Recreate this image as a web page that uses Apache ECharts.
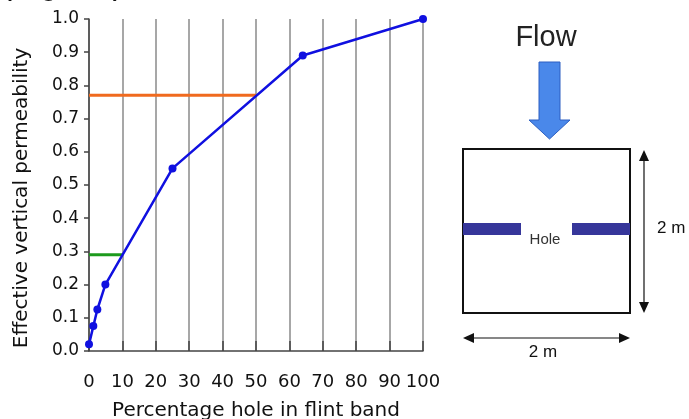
<!DOCTYPE html>
<html>
<head>
<meta charset="utf-8">
<script src="https://cdn.jsdelivr.net/npm/echarts@6/dist/echarts.min.js"></script>
<style>html,body{margin:0;padding:0;background:#fff;}#c{width:689px;height:419px;}</style>
</head>
<body>
<div id="c"></div>
<script>
// Data
var holePct = [0, 1.3, 2.5, 4.9, 25, 64, 100];
var permeability = [0.02, 0.075, 0.125, 0.20, 0.55, 0.89, 1.0];
var greenX = [0, 10];
var greenY = [0.29, 0.29];
var orangeX = [0, 50];
var orangeY = [0.77, 0.77];
var xTicks = [0, 10, 20, 30, 40, 50, 60, 70, 80, 90, 100];
var yTicks = [0.0, 0.1, 0.2, 0.3, 0.4, 0.5, 0.6, 0.7, 0.8, 0.9, 1.0];

function pairs(xs, ys) { return xs.map(function (x, i) { return [x, ys[i]]; }); }

var font = 'Liberation Sans, Arial, sans-serif';
var wide = 'DejaVu Sans, sans-serif';
var chart = echarts.init(document.getElementById('c'), null, {renderer: 'canvas'});
chart.setOption({
  animation: false,
  backgroundColor: '#fff',
  grid: {left: 89, right: 266, top: 19, bottom: 68, containLabel: false, outerBoundsMode: 'none'},
  xAxis: {
    type: 'value', min: xTicks[0], max: xTicks[xTicks.length - 1], interval: 10,
    name: 'Percentage hole in flint band', nameLocation: 'middle', nameGap: 50,
    nameTextStyle: {fontFamily: wide, fontSize: 20, color: '#111'},
    axisLine: {show: true, lineStyle: {color: '#444', width: 1.5}},
    axisTick: {show: true, inside: true, length: 10, lineStyle: {color: '#444', width: 1.5}},
    axisLabel: {fontFamily: wide, fontSize: 18, color: '#111', margin: 22},
    splitLine: {show: true, lineStyle: {color: '#8a8a8a', width: 1.5}}
  },
  yAxis: {
    type: 'value', min: yTicks[0], max: yTicks[yTicks.length - 1], interval: 0.1,
    name: 'Effective vertical permeability', nameLocation: 'middle', nameGap: 57,
    nameTextStyle: {fontFamily: wide, fontSize: 20, color: '#111', padding: [0, 0, 0, -26]},
    axisLine: {show: true, lineStyle: {color: '#444', width: 1.5}},
    axisTick: {show: true, inside: false, length: 5, lineStyle: {color: '#444', width: 1.5}},
    axisLabel: {fontFamily: wide, fontSize: 17, color: '#111', margin: 10,
      formatter: function (v) { return v.toFixed(1); }},
    splitLine: {show: false}
  },
  series: [
    {type: 'line', data: pairs(orangeX, orangeY), symbol: 'none', silent: true,
      lineStyle: {color: '#f06a1e', width: 3}, z: 3},
    {type: 'line', data: pairs(greenX, greenY), symbol: 'none', silent: true,
      lineStyle: {color: '#1c9a1c', width: 3}, z: 3},
    {type: 'line', data: pairs(holePct, permeability), symbol: 'circle', symbolSize: 8,
      itemStyle: {color: '#1010e0'}, lineStyle: {color: '#1010e0', width: 2.5}, z: 5}
  ],
  graphic: [
    {type: 'text', style: {text: '(Fig. 10)', x: 1, y: 1, font: '33px ' + font, fill: '#111', textVerticalAlign: 'bottom'}},
    {type: 'text', style: {text: 'Flow', x: 546, y: 38, font: '29px ' + font, fill: '#222', textAlign: 'center', textVerticalAlign: 'middle'}},
    {type: 'polygon', shape: {points: [[539, 62], [560, 62], [560, 120], [570, 120], [549.5, 139], [529, 120], [539, 120]]},
      style: {fill: '#4a88ea', stroke: '#2c5fc2', lineWidth: 1}},
    {type: 'rect', shape: {x: 463, y: 149, width: 167, height: 164}, style: {fill: 'none', stroke: '#111', lineWidth: 2}},
    {type: 'rect', shape: {x: 463, y: 223, width: 58, height: 12}, style: {fill: '#36369a'}},
    {type: 'rect', shape: {x: 572, y: 223, width: 58, height: 12}, style: {fill: '#36369a'}},
    {type: 'text', style: {text: 'Hole', x: 545, y: 240, font: '15px ' + font, fill: '#333', textAlign: 'center', textVerticalAlign: 'middle'}},
    {type: 'line', shape: {x1: 644, y1: 160, x2: 644, y2: 303}, style: {stroke: '#111', lineWidth: 1.2}},
    {type: 'polygon', shape: {points: [[644, 150], [639, 161], [649, 161]]}, style: {fill: '#111'}},
    {type: 'polygon', shape: {points: [[644, 313], [639, 302], [649, 302]]}, style: {fill: '#111'}},
    {type: 'text', style: {text: '2 m', x: 657, y: 228, font: '17px ' + font, fill: '#111', textVerticalAlign: 'middle'}},
    {type: 'line', shape: {x1: 474, y1: 338, x2: 619, y2: 338}, style: {stroke: '#111', lineWidth: 1.2}},
    {type: 'polygon', shape: {points: [[463, 338], [474, 333], [474, 343]]}, style: {fill: '#111'}},
    {type: 'polygon', shape: {points: [[630, 338], [619, 333], [619, 343]]}, style: {fill: '#111'}},
    {type: 'text', style: {text: '2 m', x: 543, y: 352, font: '17px ' + font, fill: '#111', textAlign: 'center', textVerticalAlign: 'middle'}}
  ]
});
</script>
</body>
</html>
